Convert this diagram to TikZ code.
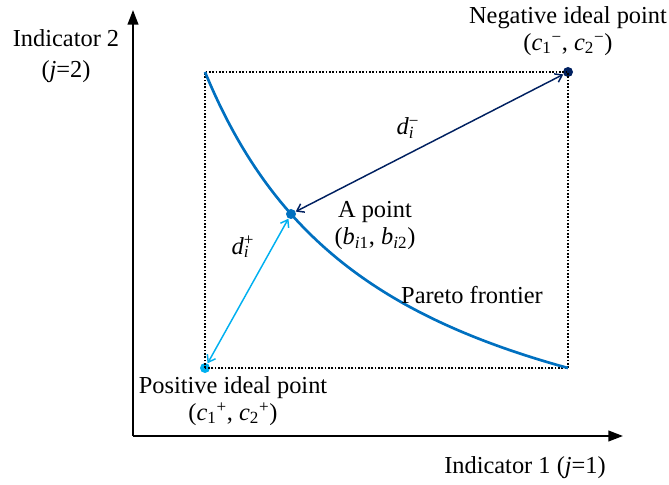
\documentclass[tikz,border=0pt]{standalone}
\usepackage{fontspec}
\setmainfont{Liberation Serif}
\usetikzlibrary{arrows.meta}

\definecolor{frontblue}{HTML}{0070C0}
\definecolor{negnavy}{HTML}{002060}
\definecolor{posblue}{HTML}{00B0F0}

% superscript stacked over subscript
\newcommand{\supsub}[2]{\begingroup
  \setbox0=\hbox{\textsuperscript{#1}}\setbox2=\hbox{\textsubscript{#2}}%
  \ifdim\wd0>\wd2 \rlap{\copy2}\box0 \else \rlap{\copy0}\box2 \fi\endgroup}

\begin{document}
\begin{tikzpicture}[x=0.75pt, y=-0.75pt, >={Straight Barb[length=5pt,width=7pt]},
    lbl/.style={font=\fontsize{18.3}{20.25}\selectfont, inner sep=0pt},
    dot/.style={circle, inner sep=0pt, minimum size=7.5pt},
    axis/.style={line width=1.5pt, -{Triangle[length=11pt,width=8pt]}},
    dist/.style={<->, line width=1.1pt}]
    \useasboundingbox (0,0) rectangle (669,485);

    % ===== axes =====
    \coordinate (O) at (133,436);
    \coordinate (xend) at (623,436);
    \coordinate (yend) at (133,10);
    \draw[axis] (O) -- (xend);
    \draw[axis] (O) -- (yend);
    \node[lbl, font=\fontsize{18.3}{23.5}\selectfont, align=center] (ylbl) at (66,56)
        {Indicator 2\\(\textit{j}=2)};
    \node[lbl] (xlbl) at (525,468) {Indicator 1 (\textit{j}=1)};

    % ===== ideal points and box =====
    \coordinate (tl) at (205,72);
    \node[dot, fill=negnavy] (neg) at (568,72) {};
    \node[dot, fill=posblue] (pos) at (205,368) {};
    \draw[line width=1.1pt, dash pattern=on 1.2pt off 1.3pt]
        (pos.center) |- (neg.center) |- cycle;

    % ===== Pareto frontier =====
    \draw[frontblue, line width=2pt, domain=2.05:5.68, samples=80, smooth]
        plot ({100*\x}, {518.3 - 822.53/(\x-0.207)});
    \node[dot, fill=frontblue] (apt) at (291,214) {};

    % ===== distances =====
    \draw[dist, negnavy] (neg) -- (apt);
    \draw[dist, posblue] (pos) -- (apt);
    \node[lbl] (dneg) at (408,128) {\textit{d}\supsub{−}{\textit{i}}};
    \node[lbl] (dpos) at (243,247) {\textit{d}\supsub{+}{\textit{i}}};

    % ===== labels =====
    \node[lbl, align=center] (neglbl) at (568,31)
        {Negative ideal point\\(\textit{c}\textsubscript{1}\textsuperscript{−}, \textit{c}\textsubscript{2}\textsuperscript{−})};
    \node[lbl, align=center] (albl) at (375,226)
        {A point\\(\textit{b}\textsubscript{\textit{i}1}, \textit{b}\textsubscript{\textit{i}2})};
    \node[lbl] (parlbl) at (472,295) {Pareto frontier};
    \node[lbl, align=center] (poslbl) at (233,401)
        {Positive ideal point\\(\textit{c}\textsubscript{1}\textsuperscript{+}, \textit{c}\textsubscript{2}\textsuperscript{+})};
\end{tikzpicture}
\end{document}
